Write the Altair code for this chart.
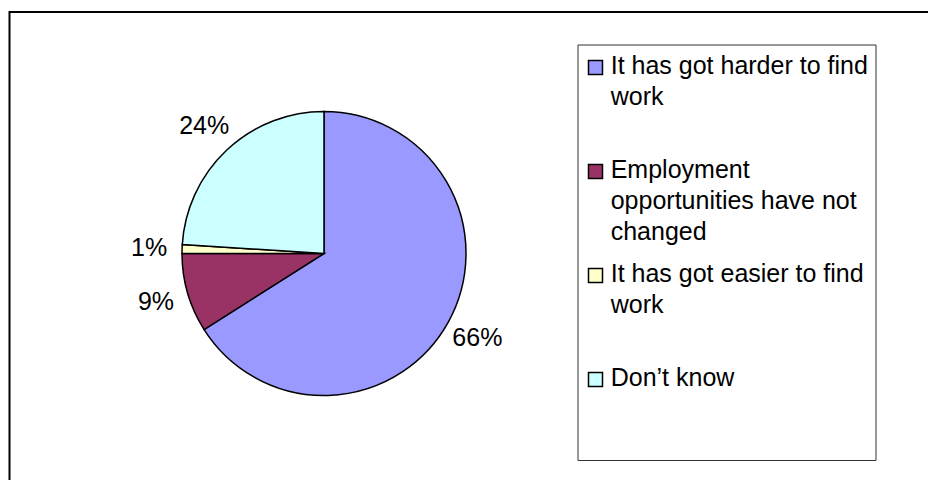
import altair as alt
import pandas as pd

categories = [
    "It has got harder to find work",
    "Employment opportunities have not changed",
    "It has got easier to find work",
    "Don’t know",
]
legend_labels = [
    "It has got harder to find\nwork",
    "Employment\nopportunities have not\nchanged",
    "It has got easier to find\nwork",
    "Don’t know",
]
values = [66, 9, 1, 24]
colors = ["#9999FF", "#993366", "#FFFFCC", "#CCFFFF"]

df = pd.DataFrame({
    "category": categories,
    "label": legend_labels,
    "value": values,
    "idx": list(range(len(categories))),
})
df["pct"] = df["value"].astype(str) + "%"

W, H = 920, 472
CX, CY = 316, 245.5
FONT = "Liberation Sans"

base = alt.Chart(df)
color = alt.Color("category:N", scale=alt.Scale(domain=categories, range=colors), legend=None)
theta = alt.Theta("value:Q", stack=True)
order = alt.Order("idx:Q")
ly = alt.Y("idx:Q", scale=alt.Scale(domain=[0, 3], range=[59.5, 371.5]), axis=None)

frame = alt.Chart(pd.DataFrame({"a": [0]})).mark_rect(
    fill="transparent", stroke="black", strokeWidth=2
).encode(x=alt.value(1.5), x2=alt.value(1400), y=alt.value(4), y2=alt.value(1400))

box = alt.Chart(pd.DataFrame({"a": [0]})).mark_rect(
    fill="white", stroke="#333333", strokeWidth=1
).encode(x=alt.value(570), x2=alt.value(868), y=alt.value(37), y2=alt.value(452.5))

pie = base.mark_arc(outerRadius=142, stroke="black", strokeWidth=1.5).encode(
    theta=theta, order=order, color=color, x=alt.value(CX), y=alt.value(CY)
)

labels = base.mark_text(radius=175, font=FONT, fontSize=25, color="black").encode(
    theta=theta, order=order, text="pct:N", x=alt.value(CX), y=alt.value(CY)
)

leg_sym = base.mark_square(size=196, stroke="black", strokeWidth=1.5, opacity=1).encode(
    x=alt.value(587.5), y=ly, color=color
)

leg_txt = base.mark_text(
    align="left", baseline="alphabetic", dy=6.5, lineBreak="\n", lineHeight=31,
    font=FONT, fontSize=25, color="black"
).encode(x=alt.value(602.7), y=ly, text="label:N")

chart = alt.layer(frame, box, pie, labels, leg_sym, leg_txt).properties(
    width=W, height=H, padding=0, autosize=alt.AutoSizeParams(type="none")
).configure_view(strokeWidth=0)

chart.save("out.html", embed_options={"renderer": "svg", "actions": False})
